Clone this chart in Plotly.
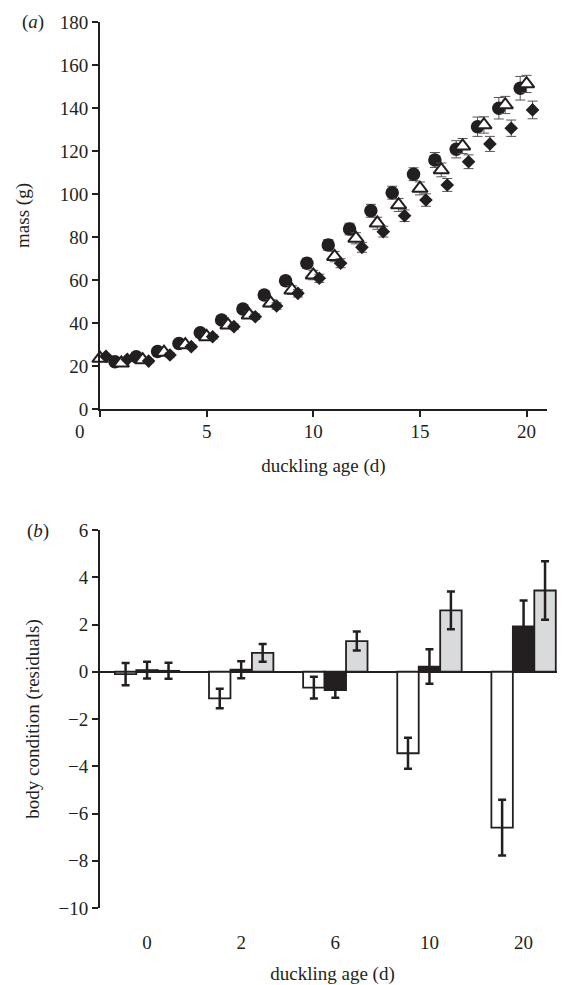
import plotly.graph_objects as go

# ---------- panel (a) data ----------
days = list(range(21))
mass_circle = [25, 22, 24.3, 26.7, 30.5, 35.5, 41.4, 46.5, 53, 59.7, 67.8,
               76.3, 83.7, 92.2, 100.6, 109.2, 115.8, 120.8, 131.3, 139.9, 149.2]
err_circle = [1.0, 0.8, 0.8, 1.0, 1.0, 1.2, 1.5, 1.5, 1.8, 2.0, 2.3,
              2.5, 2.7, 3.0, 3.0, 3.0, 3.5, 4.0, 4.5, 5.0, 5.5]
mass_triangle = [23.5, 21.3, 22.8, 26.3, 29.8, 33.6, 39, 43.7, 49.2, 55.3, 62.3,
                 70.9, 79.4, 86.4, 94.9, 102.6, 111.2, 122.3, 132.1, 141.4, 151.2]
err_triangle = [1.0, 0.8, 0.8, 1.0, 1.0, 1.2, 1.4, 1.5, 1.7, 2.0, 2.2,
                2.4, 2.6, 2.8, 3.0, 3.0, 3.2, 3.5, 3.8, 4.0, 4.0]
mass_diamond = [24.5, 23.1, 22.3, 25.1, 29, 33.6, 38.3, 42.9, 47.9, 53.8, 60.8,
                67.8, 75.2, 82.5, 89.9, 97.2, 104.2, 115, 123.3, 130.6, 139.1]
err_diamond = [0.8, 0.8, 0.8, 0.9, 1.0, 1.0, 1.2, 1.3, 1.5, 1.7, 1.9,
               2.1, 2.3, 2.5, 2.7, 2.9, 3.0, 3.2, 3.5, 3.8, 4.1]

# ---------- panel (b) data ----------
ages_b = ["0", "2", "6", "10", "20"]
bc_white = [-0.10, -1.13, -0.67, -3.45, -6.60]
bc_white_err = [0.47, 0.41, 0.46, 0.66, 1.18]
bc_black = [0.07, 0.09, -0.78, 0.22, 1.92]
bc_black_err = [0.35, 0.36, 0.32, 0.73, 1.10]
bc_gray = [0.04, 0.80, 1.30, 2.60, 3.44]
bc_gray_err = [0.34, 0.38, 0.40, 0.80, 1.24]

INK = "#231f20"
FONT = "Liberation Serif, Times New Roman, serif"
FS = 19

off_c, off_t, off_d = -0.30, 0.0, 0.28

fig = go.Figure()

def errs(vals, color="#555555"):
    return dict(type="data", array=vals, visible=True, color=color,
                thickness=1, width=5)

fig.add_trace(go.Scatter(
    x=[d + off_c for d in days], y=mass_circle, mode="markers",
    marker=dict(symbol="circle", size=13.5, color=INK, line=dict(width=0)),
    error_y=errs(err_circle), cliponaxis=False, xaxis="x", yaxis="y",
    showlegend=False))
fig.add_trace(go.Scatter(
    x=[d + off_t for d in days], y=mass_triangle, mode="markers",
    marker=dict(symbol="triangle-up", size=13.5, color="white",
                line=dict(width=2, color=INK)),
    error_y=errs(err_triangle), cliponaxis=False, xaxis="x", yaxis="y",
    showlegend=False))
fig.add_trace(go.Scatter(
    x=[d + off_d for d in days], y=mass_diamond, mode="markers",
    marker=dict(symbol="diamond", size=10.5, color=INK, line=dict(width=0)),
    error_y=errs(err_diamond), cliponaxis=False, xaxis="x", yaxis="y",
    showlegend=False))

def berr(vals):
    return dict(type="data", array=vals, visible=True, color=INK,
                thickness=2.5, width=4)

fig.add_trace(go.Bar(x=ages_b, y=bc_white, error_y=berr(bc_white_err),
                     marker=dict(color="white", line=dict(color=INK, width=1.8)),
                     xaxis="x2", yaxis="y2", showlegend=False))
fig.add_trace(go.Bar(x=ages_b, y=bc_black, error_y=berr(bc_black_err),
                     marker=dict(color=INK, line=dict(color=INK, width=1.8)),
                     xaxis="x2", yaxis="y2", showlegend=False))
fig.add_trace(go.Bar(x=ages_b, y=bc_gray, error_y=berr(bc_gray_err),
                     marker=dict(color="#d9dadb", line=dict(color=INK, width=1.8)),
                     xaxis="x2", yaxis="y2", showlegend=False))

tickfont = dict(family=FONT, size=FS, color=INK)
axis_common = dict(showgrid=False, showline=True, linecolor=INK,
                   linewidth=2, ticks="outside", ticklen=6, tickwidth=2,
                   tickcolor=INK, tickfont=tickfont, automargin=False)

fig.update_layout(
    width=557, height=977,
    margin=dict(l=92, r=0, t=14, b=77, autoexpand=False),
    paper_bgcolor="white", plot_bgcolor="white",
    barmode="group", bargap=0.316, bargroupgap=0,
    font=dict(family=FONT, size=FS, color=INK),
    xaxis=dict(**axis_common, zeroline=False, domain=[0, 0.961], range=[0, 20.95],
               tickvals=[0, 5, 10, 15, 20], ticktext=["", "5", "10", "15", "20"],
               anchor="y", ticklabelstandoff=-2,
               title=dict(text="duckling age (d)", font=tickfont, standoff=18)),
    yaxis=dict(**axis_common, zeroline=False, domain=[0.5632, 1], range=[0, 180],
               dtick=20, anchor="x",
               title=dict(text="mass (g)", font=tickfont, standoff=25)),
    xaxis2=dict(showgrid=False, zeroline=False, showline=False, ticks="",
                tickfont=tickfont, type="category", range=[-0.5, 4.44],
                domain=[0, 1], anchor="y2", ticklabelstandoff=21, automargin=False,
                title=dict(text="duckling age (d)", font=tickfont, standoff=20)),
    yaxis2=dict(**axis_common, zeroline=True, zerolinecolor=INK, zerolinewidth=2,
                domain=[0, 0.4266], range=[-10, 6], dtick=2, anchor="x2",
                title=dict(text="body condition (residuals)", font=tickfont,
                           standoff=14)),
)

fig.add_annotation(text="0", x=0, xref="x", y=0, yref="y", xshift=-20,
                   yshift=-22, showarrow=False, font=tickfont)
fig.add_annotation(text="(<i>a</i>)", x=-0.144, xref="paper", y=1.0, yref="paper",
                   showarrow=False, font=tickfont, xanchor="center", yanchor="middle")
fig.add_annotation(text="(<i>b</i>)", x=-0.133, xref="paper", y=0.425, yref="paper",
                   showarrow=False, font=tickfont, xanchor="center", yanchor="middle")

fig.write_html("out.html")
